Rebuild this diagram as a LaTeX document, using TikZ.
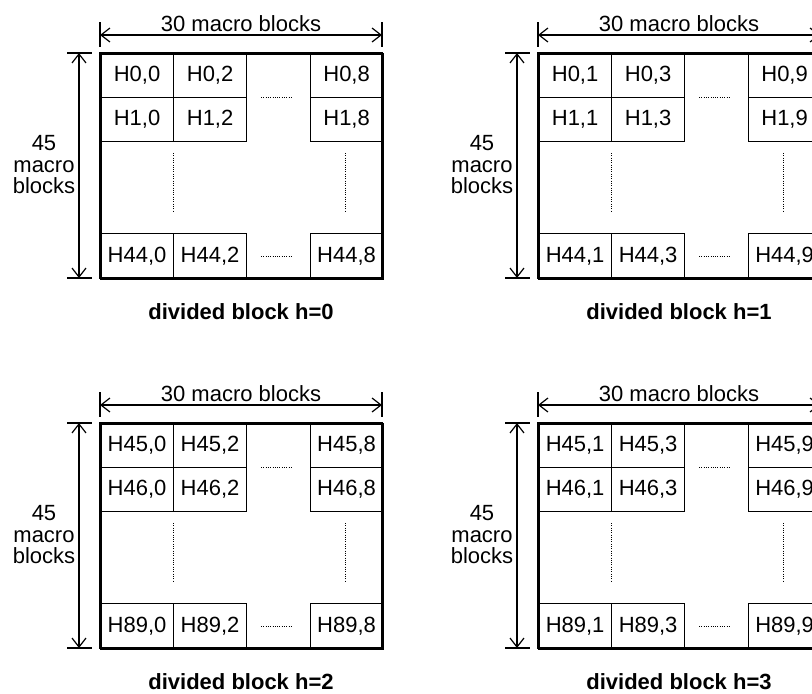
\documentclass[tikz,border=0pt]{standalone}
\usepackage{fontspec}
\setmainfont{Liberation Sans}
\usetikzlibrary{arrows.meta}
\tikzset{
  cell/.style={draw, line width=1.2pt, minimum width=73pt, minimum height=44pt, inner sep=0pt, anchor=north west, font=\fontsize{22}{24}\selectfont},
  outerbox/.style={draw, line width=1.7pt, minimum width=282pt, minimum height=225pt, inner sep=0pt, anchor=north west},
  dotline/.style={line width=1pt, dash pattern=on 0.9pt off 1.4pt},
  dimline/.style={line width=1.2pt, {Straight Barb[length=9pt,width=14pt]}-{Straight Barb[length=9pt,width=14pt]}},
  extline/.style={line width=1.2pt},
  dimlabel/.style={font=\fontsize{22}{21.5}\selectfont, inner sep=0pt},
  caption/.style={font=\fontsize{22}{24}\selectfont\bfseries, inner sep=0pt}
}
\newcommand\dblock[9]{%
  \begin{scope}[shift={(#2,#3)}]
    \node[outerbox] (b#1) at (0,0) {};
    \node[cell] (c#1-11) at (0,0) {H#4,#7};
    \node[cell] (c#1-12) at (73,0) {H#4,#8};
    \node[cell, minimum width=72pt] (c#1-13) at (210,0) {H#4,#9};
    \node[cell] (c#1-21) at (0,44) {H#5,#7};
    \node[cell] (c#1-22) at (73,44) {H#5,#8};
    \node[cell, minimum width=72pt] (c#1-23) at (210,44) {H#5,#9};
    \node[cell, minimum height=45pt] (c#1-31) at (0,180) {H#6,#7};
    \node[cell, minimum height=45pt] (c#1-32) at (73,180) {H#6,#8};
    \node[cell, minimum width=72pt, minimum height=45pt] (c#1-33) at (210,180) {H#6,#9};
    \draw[outerbox] (0,0) rectangle (282,225);
    % dotted continuation marks
    \draw[dotline] (161,44) -- (193,44);
    \draw[dotline] (161,203) -- (193,203);
    \draw[dotline] (73,100) -- (73,159);
    \draw[dotline] (245,100) -- (245,159);
    % horizontal dimension
    \coordinate (t#1l) at (0,-18);
    \coordinate (t#1r) at (282,-18);
    \draw[extline] (0,-31) -- (0,-6);
    \draw[extline] (282,-31) -- (282,-6);
    \draw[dimline] (t#1l) -- (t#1r);
    \node[dimlabel, anchor=base] (tl#1) at (141,-22) {30 macro blocks};
    % vertical dimension
    \coordinate (l#1t) at (-21,0);
    \coordinate (l#1b) at (-21,225);
    \draw[extline] (-33,0) -- (-8,0);
    \draw[extline] (-33,225) -- (-8,225);
    \draw[dimline] (l#1t) -- (l#1b);
    \node[dimlabel, align=center] (ll#1) at (-56,112) {45\\macro\\blocks};
    % caption
    \node[caption] (cap#1) at (141,259) {divided block h=#1};
  \end{scope}}
\begin{document}
\begin{tikzpicture}[x=1pt,y=-1pt]
  \useasboundingbox (0,0) rectangle (812,694);
  \clip (0,0) rectangle (812,694);
  \fill[white] (0,0) rectangle (812,694);
  \dblock{0}{100}{53}{0}{1}{44}{0}{2}{8}
  \dblock{1}{538}{53}{0}{1}{44}{1}{3}{9}
  \dblock{2}{100}{423}{45}{46}{89}{0}{2}{8}
  \dblock{3}{538}{423}{45}{46}{89}{1}{3}{9}
\end{tikzpicture}
\end{document}
